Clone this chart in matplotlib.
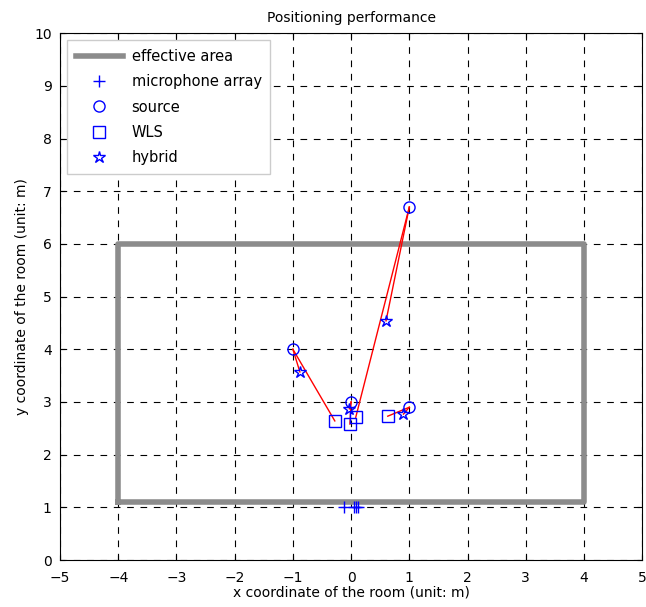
import numpy as np
import matplotlib.pyplot as plt

# effective area corners
area_x = [-4, 4, 4, -4, -4]
area_y = [1.1, 1.1, 6.0, 6.0, 1.1]

mic_x = [-0.12, 0.05, 0.08, 0.12]
mic_y = [1.0, 1.0, 1.0, 1.0]

src_x = [-1.0, 0.0, 1.0, 1.0]
src_y = [4.0, 3.0, 2.9, 6.7]

wls_x = [-0.28, -0.02, 0.63, 0.08]
wls_y = [2.64, 2.58, 2.73, 2.71]

hyb_x = [-0.88, -0.03, 0.9, 0.6]
hyb_y = [3.57, 2.87, 2.77, 4.54]

fig = plt.figure(figsize=(6.46, 6.07), dpi=100)
ax = fig.add_axes([0.093, 0.0774, 0.901, 0.868])

ax.plot(area_x, area_y, color='#8c8c8c', lw=4, label='effective area', zorder=3)
for i in range(len(src_x)):
	ax.plot([src_x[i], wls_x[i]], [src_y[i], wls_y[i]], color='red', lw=1, zorder=4)
	ax.plot([src_x[i], hyb_x[i]], [src_y[i], hyb_y[i]], color='red', lw=1, zorder=4)
ax.plot(mic_x, mic_y, '+', color='blue', ms=8, mew=1, ls='none', label='microphone array', zorder=5)
ax.plot(src_x, src_y, 'o', mfc='none', mec='blue', ms=8, ls='none', label='source', zorder=5)
ax.plot(wls_x, wls_y, 's', mfc='none', mec='blue', ms=9, ls='none', label='WLS', zorder=5)
ax.plot(hyb_x, hyb_y, '*', mfc='none', mec='blue', ms=9, ls='none', label='hybrid', zorder=5)

ax.set_xlim(-5, 5)
ax.set_ylim(0, 10)
ax.set_xticks(np.arange(-5, 6, 1))
ax.set_yticks(np.arange(0, 11, 1))
ax.grid(True, color='black', ls=(0, (6, 6)), lw=0.8)
ax.tick_params(direction='in', top=True, right=True, labelsize=10)
ax.tick_params(axis='x', pad=8)
ax.tick_params(axis='y', pad=6)
ax.set_xlabel('x coordinate of the room (unit: m)', fontsize=10, labelpad=0)
ax.set_ylabel('y coordinate of the room (unit: m)', fontsize=10, labelpad=4)
ax.set_title('Positioning performance', fontsize=10, pad=8)
ax.legend(loc='upper left', fontsize=10.5, fancybox=False, edgecolor='#cccccc', framealpha=1,
	handlelength=3.2, handletextpad=0.6, labelspacing=0.7, borderpad=0.6)

plt.savefig('out.png')
